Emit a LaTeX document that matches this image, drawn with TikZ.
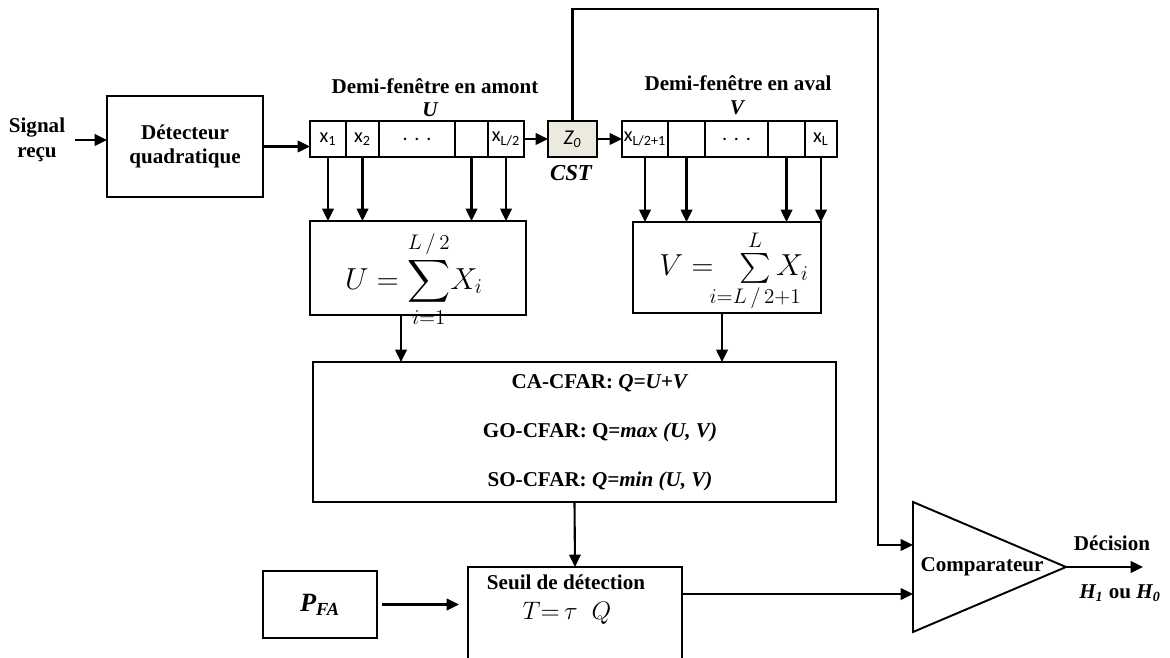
\documentclass[tikz,border=0pt]{standalone}
\usepackage{amsmath,amssymb,mathtools}
\usepackage{fontspec}
\setmainfont{Liberation Serif}
\newfontfamily\cellfont{Carlito}
\usepackage{tikz}
\usetikzlibrary{arrows.meta,positioning,calc}
\definecolor{cstfill}{RGB}{236,234,222}

\begin{document}
\begin{tikzpicture}[x=0.02cm,y=-0.02cm,
    every node/.style={font=\bfseries\fontsize{12}{14}\selectfont},
    blockbox/.style={draw,line width=1.1pt,inner sep=0pt,outer sep=0pt},
    cellbox/.style={draw,line width=1.1pt,minimum height=0.72cm,inner sep=0pt,outer sep=0pt,
      font=\cellfont\fontsize{11.5}{12}\selectfont},
    arr/.style={-{Triangle[length=7pt,width=6.5pt]},line width=1.2pt},
    wire/.style={line width=1.1pt}]
  \useasboundingbox (0,0) rectangle (1170,658);

  % entree et detecteur
  \node[align=center] (signal) at (37,140) {Signal\\reçu};
  \node[blockbox,minimum width=3.12cm,minimum height=2.02cm,align=center] (det) at (185,146.5) {Détecteur\\quadratique};

  % demi-fenetre en amont
  \node[cellbox,minimum width=0.72cm] (u1) at (328,139) {x\textsubscript{1}};
  \node[cellbox,minimum width=0.66cm] (u2) at (362.5,139) {x\textsubscript{2}};
  \node[cellbox,minimum width=1.52cm] (u3) at (417,139) {.\,\,.\,\,.};
  \node[cellbox,minimum width=0.66cm] (u4) at (471.5,139) {};
  \node[cellbox,minimum width=0.72cm] (u5) at (506,139) {x\textsubscript{L/2}};
  \node (amont) at (435,86) {Demi-fenêtre en amont};
  \node (ulab) at (430,110) {\itshape U};

  % cellule sous test
  \node[cellbox,fill=cstfill,minimum width=0.98cm,font=\cellfont\itshape\fontsize{12}{12}\selectfont] (z0) at (572.5,139) {Z\textsubscript{0}};
  \node[font=\bfseries\itshape\fontsize{13}{14}\selectfont] (cst) at (571,173) {CST};

  % demi-fenetre en aval
  \node[cellbox,minimum width=0.92cm] (v1) at (645,139) {x\textsubscript{L/2+1}};
  \node[cellbox,minimum width=0.74cm] (v2) at (686.5,139) {};
  \node[cellbox,minimum width=1.26cm] (v3) at (736.5,139) {.\,\,.\,\,.};
  \node[cellbox,minimum width=0.74cm] (v4) at (786.5,139) {};
  \node[cellbox,minimum width=0.64cm] (v5) at (821,139) {x\textsubscript{L}};
  \node (aval) at (738,83) {Demi-fenêtre en aval};
  \node (vlab) at (737,108) {\itshape V};

  % sommes
  \node[blockbox,minimum width=4.32cm,minimum height=1.88cm] (ubox) at (418,268) {};
  \node[font=\fontsize{17}{20}\selectfont] (ufml) at (414,279) {$\displaystyle U=\sum_{i=1}^{L\,/\,2}\!X_i$};
  \node[blockbox,minimum width=3.76cm,minimum height=1.82cm] (vbox) at (727,267.5) {};
  \node[font=\fontsize{17}{20}\selectfont] (vfml) at (734,271) {$V=\hspace{0.35cm}\sum\limits_{\mathclap{i=L\,/\,2+1}}^{L}X_i$};

  % choix du detecteur CFAR
  \node[blockbox,minimum width=10.46cm,minimum height=2.8cm] (cfar) at (574.5,432) {};
  \node[align=center,font=\bfseries\fontsize{12}{28}\selectfont] (cfartxt) at (600,433)
    {CA-CFAR: \textit{Q=U+V}\\GO-CFAR: Q=\textit{max (U, V)}\\SO-CFAR: \textit{Q=min (U, V)}};

  % seuil
  \node[blockbox,minimum width=2.28cm,minimum height=1.34cm,font=\bfseries\itshape\fontsize{15}{18}\selectfont] (pfa) at (320,604.5) {P\textsubscript{FA}};
  \node[blockbox,minimum width=4.28cm,minimum height=2.06cm] (seuil) at (575,618.5) {};
  \node (seuiltxt) at (566,582) {Seuil de détection};
  \node[font=\fontsize{14}{16}\selectfont] (tq) at (567,613) {$T{=}\,\tau\;\;Q$};

  % comparateur
  \draw[wire] (913,502) coordinate (cmptop) -- (1066,567) coordinate (cmpout)
    -- (913,632) coordinate (cmpbot) -- cycle;
  \node (cmp) at (982,567) {Comparateur};
  \coordinate (in1) at (913,545);
  \coordinate (in2) at (913,594);
  \coordinate (fbk) at (878,9);
  \coordinate (dec) at (1143,567);
  \node (decision) at (1112,543) {Décision};
  \node (hyp) at (1120,593) {\itshape H\textsubscript{1} \upshape ou \itshape H\textsubscript{0}};

  % liaisons
  \draw[arr,shorten <=2pt] (signal.east) -- (signal.east -| det.west);
  \draw[arr] (det.east) -- (det.east -| u1.west);
  \draw[arr] (u5.east) -- (z0.west);
  \draw[arr] (z0.east) -- (v1.west);
  \foreach \c in {u1,u2,u4,u5}
    \draw[arr] (\c.south) -- (\c.south |- ubox.north);
  \foreach \c in {v1,v2,v4,v5}
    \draw[arr] (\c.south) -- (\c.south |- vbox.north);
  \draw[arr] ([xshift=-0.34cm]ubox.south) -- ([xshift=-0.34cm]ubox.south |- cfar.north);
  \draw[arr] ([xshift=-0.1cm]vbox.south) -- ([xshift=-0.1cm]vbox.south |- cfar.north);
  \draw[arr] (cfar.south) -- (seuil.north);
  \draw[arr,shorten <=0.1cm,shorten >=0.18cm] (pfa.east) -- (pfa.east -| seuil.west);
  \draw[arr] (seuil.east |- in2) -- (in2);
  \draw[arr] (z0.north) |- (fbk) |- (in1);
  \draw[arr] (cmpout) -- (dec);
\end{tikzpicture}
\end{document}
